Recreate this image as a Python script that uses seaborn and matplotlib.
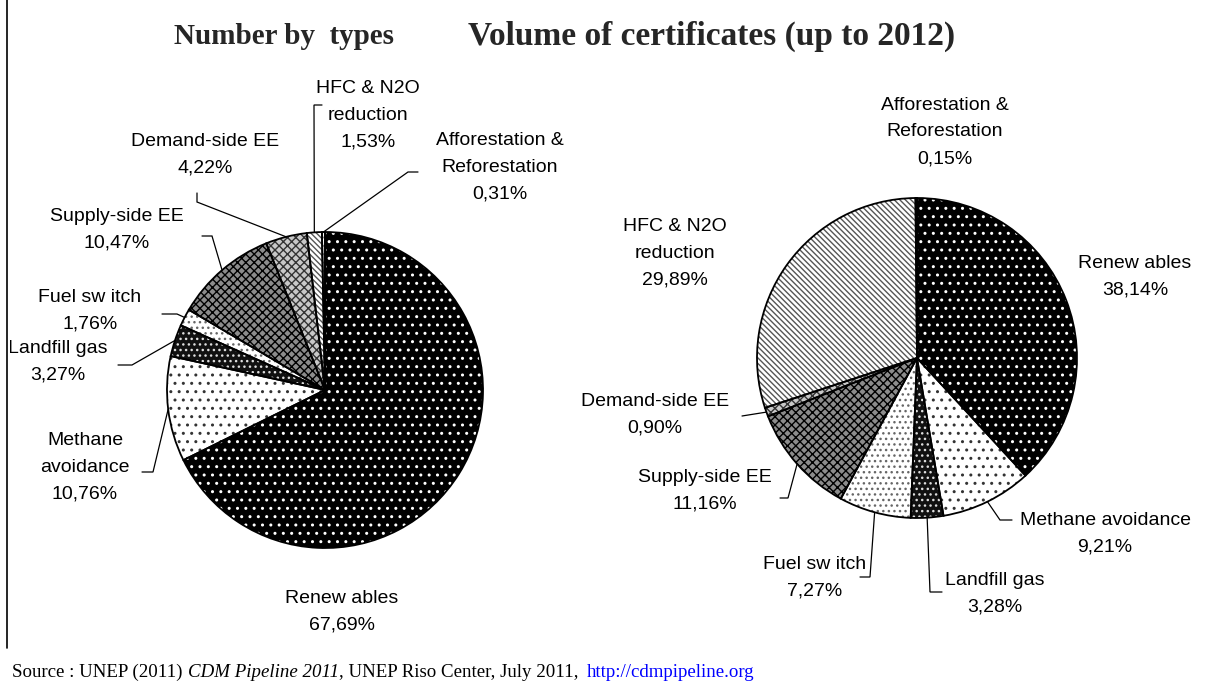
import numpy as np
import matplotlib
matplotlib.use("Agg")
import matplotlib.pyplot as plt
import seaborn as sns

# data (clockwise from 12 o'clock)
types = ["Renewables", "Methane avoidance", "Landfill gas", "Fuel switch",
         "Supply-side EE", "Demand-side EE", "HFC & N2O reduction",
         "Afforestation & Reforestation"]
number_pct = [67.69, 10.76, 3.27, 1.76, 10.47, 4.22, 1.53, 0.31]
volume_pct = [38.14, 9.21, 3.28, 7.27, 11.16, 0.90, 29.89, 0.15]

left_names = ["Renew ables", "Methane\navoidance", "Landfill gas", "Fuel sw itch",
              "Supply-side EE", "Demand-side EE", "HFC & N2O\nreduction",
              "Afforestation &\nReforestation"]
right_names = ["Renew ables", "Methane avoidance", "Landfill gas", "Fuel sw itch",
               "Supply-side EE", "Demand-side EE", "HFC & N2O\nreduction",
               "Afforestation &\nReforestation"]

# fill / hatch style per type
faces = ["#000000", "#ffffff", "#111111", "#ffffff", "#8c8c8c", "#c8c8c8", "#ffffff", "#ffffff"]
hatches = ["..", "..", "...", "...", "xxxx", "xxxx", "\\\\\\\\\\\\", "...."]
hcols = ["#ffffff", "#333333", "#dddddd", "#666666", "#000000", "#333333", "#555555", "#888888"]

W, H = 1221, 684

sns.set_theme(style="white")
plt.rcParams["font.family"] = ["Liberation Sans", "DejaVu Sans"]
plt.rcParams["hatch.linewidth"] = 1.0

fig = plt.figure(figsize=(W / 100, H / 100), dpi=100)
fig.patch.set_facecolor("white")


def fmt(v):
    return ("%.2f" % v).replace(".", ",") + "%"


def draw_pie(x0, x1, center, radius, vals, names, label_pos, leaders):
    ax = fig.add_axes([x0 / W, (H - 645) / H, (x1 - x0) / W, 645 / H])
    c = (center[0], H - center[1])
    kw = dict(center=c, radius=radius, startangle=90, counterclock=False, normalize=True)
    wedges, _ = ax.pie(vals, colors=faces, wedgeprops=dict(linewidth=0), **kw)
    hw, _ = ax.pie(vals, wedgeprops=dict(facecolor="none", linewidth=0), **kw)
    for w, h, hc in zip(hw, hatches, hcols):
        w.set_hatch(h)
        w.set_edgecolor(hc)
    ax.pie(vals, wedgeprops=dict(facecolor="none", edgecolor="black", linewidth=1.3), **kw)
    ax.set_xlim(x0, x1)
    ax.set_ylim(H - 645, H)
    ax.set_aspect("equal")
    ax.axis("off")
    for i, w in enumerate(wedges):
        txt = names[i] + "\n" + fmt(vals[i])
        lx, ly = label_pos[i]
        ax.text(lx, H - ly, txt, ha="center", va="center", fontsize=14,
                linespacing=1.75, color="black", clip_on=True)
        pts = leaders[i]
        if pts:
            a = np.deg2rad((w.theta1 + w.theta2) / 2)
            xs = [c[0] + radius * np.cos(a)] + [p[0] for p in pts]
            ys = [c[1] + radius * np.sin(a)] + [H - p[1] for p in pts]
            ax.plot(xs, ys, color="black", lw=0.9, solid_joinstyle="miter")
    return ax


left_pos = [(342, 612), (85, 467), (58, 362), (90, 311), (117, 230), (205, 155),
            (368, 115), (500, 167)]
left_lead = [None, [(153, 472), (142, 472)], [(132, 365), (118, 365)],
             [(177, 314), (162, 314)], [(212, 236), (202, 236)],
             [(197, 202), (197, 193)], [(314, 105), (322, 105)],
             [(408, 172), (418, 172)]]
right_pos = [(1135, 277), (1105, 534), (995, 594), (815, 578), (705, 491),
             (655, 415), (675, 253), (945, 132)]
right_lead = [None, [(1000, 520), (1012, 520)], [(930, 592), (942, 592)],
              [(870, 577), (860, 577)], [(788, 498), (780, 498)],
              [(742, 416)], None, None]

draw_pie(10, 570, (325, 390), 158, number_pct, left_names, left_pos, left_lead)
draw_pie(570, 1221, (917, 358), 160, volume_pct, right_names, right_pos, right_lead)

serif = ["Liberation Serif", "DejaVu Serif"]
fig.text(284 / W, 1 - 36 / H, "Number by  types", ha="center", va="center",
         fontsize=21, fontweight="bold", family=serif)
fig.text(712 / W, 1 - 36 / H, "Volume of certificates (up to 2012)", ha="center",
         va="center", fontsize=24, fontweight="bold", family=serif)

# left frame line
fig.add_artist(plt.Line2D([7 / W, 7 / W], [1 - 648 / H, 1], color="black", lw=1.2))

# source line, pieces placed one after another
fig.canvas.draw()
r = fig.canvas.get_renderer()
x = 12
base = 1 - 677 / H
pieces = [("Source : UNEP (2011)", "normal", "black", 5),
          ("CDM Pipeline 2011", "italic", "black", 0),
          (", UNEP Riso Center, July 2011,", "normal", "black", 9),
          ("http://cdmpipeline.org", "normal", "#0000ff", 0)]
for s, st, col, gap in pieces:
    t = fig.text(x / W, base, s, fontsize=13.6, style=st, color=col, family=serif,
                 va="baseline", ha="left")
    bb = t.get_window_extent(renderer=r)
    x += bb.width + gap

fig.savefig("out.png", dpi=100, facecolor="white")
